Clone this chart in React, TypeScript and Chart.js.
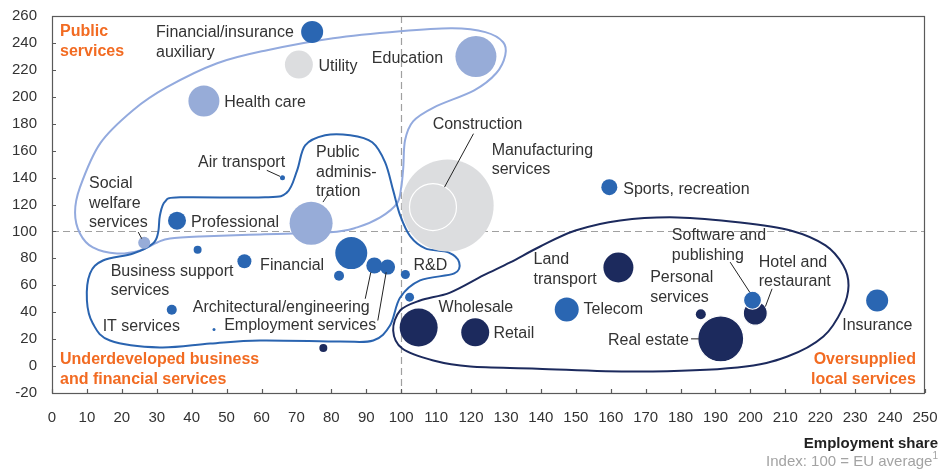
import React, { useEffect, useRef } from 'react';
import { Chart, registerables } from 'chart.js';

Chart.register(...registerables);

// ---------------- Data ----------------
const sectors = [
  'Manufacturing services', 'Construction', 'Utility', 'Health care', 'Education',
  'Public administration', 'Social welfare services', 'Financial/insurance auxiliary',
  'Air transport', 'Professional', 'Sports, recreation', 'Business support services',
  'Other business services', 'IT services', 'Other small service', 'Financial',
  'Other financial', 'Architectural/engineering', 'Employment services', 'R&D',
  'Other research', 'Telecom', 'Insurance', 'Other local', 'Wholesale', 'Retail',
  'Land transport', 'Personal services', 'Real estate', 'Hotel and restaurant',
  'Software and publishing',
];
const employmentShare = [
  113.3, 109.1, 70.7, 43.5, 121.4,
  74.2, 26.4, 74.5,
  66.0, 35.8, 159.6, 41.7,
  55.1, 34.3, 46.4, 85.7,
  82.2, 92.3, 96.1, 101.2,
  102.4, 147.4, 236.3, 77.7, 105.0, 121.2,
  162.2, 185.8, 191.5, 201.4,
  200.6,
];
const indexValue = [
  119.3, 118.1, 223.9, 196.9, 229.9,
  106.0, 91.6, 248.2,
  139.9, 108.0, 132.9, 86.4,
  77.9, 41.8, 27.1, 83.9,
  67.1, 74.7, 73.5, 68.0,
  51.2, 42.0, 48.7, 13.5, 28.6, 25.1,
  73.2, 38.5, 20.2, 39.3,
  48.9,
];
const bubbleSize = [
  46, 23.5, 14, 15.5, 20.5,
  21.5, 6, 11,
  2.5, 9, 8, 4,
  7, 5, 1.5, 16,
  5, 8, 7.5, 4.5,
  4.5, 12, 11, 4, 19, 14,
  15, 5, 23, 12,
  9,
];
const sectorGroup = [
  'gray', 'gray', 'gray', 'light', 'light',
  'light', 'light', 'mid',
  'mid', 'mid', 'mid', 'mid',
  'mid', 'mid', 'mid', 'mid',
  'mid', 'mid', 'mid', 'mid',
  'mid', 'mid', 'mid', 'navy', 'navy', 'navy',
  'navy', 'navy', 'navy', 'navy',
  'mid',
];
const outlinedSectors = ['Construction', 'Software and publishing', 'Hotel and restaurant', 'Real estate'];

const groupColors: Record<string, string> = {
  gray: '#dcdddf',
  light: '#97acd8',
  mid: '#2a66b2',
  navy: '#1c2a5d',
};

const xMin = 0, xMax = 250, xStep = 10;
const yMin = -20, yMax = 260, yStep = 20;
const referenceValue = 100;

// Cluster outlines (data coordinates)
const publicServicesX = [6.6, 8.0, 13.8, 23.2, 32.9, 47.3, 61.6, 80.5, 99.7, 114.6, 124.1, 129.2, 129.8, 127.2, 120.9, 109.4, 103.4, 101.1, 100.6, 100.0, 98.8, 94.0, 87.4, 79.6, 59.6, 42.4, 33.8, 30.1, 25.2, 18.6, 11.7, 8.0];
const publicServicesY = [114.1, 132.7, 165.4, 190.0, 207.1, 224.9, 234.6, 243.5, 248.7, 250.9, 248.0, 240.5, 230.9, 217.5, 204.8, 192.2, 181.8, 167.7, 147.6, 132.7, 120.8, 110.4, 103.0, 99.3, 97.8, 96.3, 94.8, 91.8, 85.9, 83.6, 88.1, 98.5];

const underdevelopedX = [30.9, 32.4, 36.7, 61.0, 67.3, 70.2, 72.5, 78.2, 85.4, 91.7, 95.4, 97.7, 99.7, 102.6, 106.9, 113.5, 116.6, 115.2, 105.4, 99.7, 96.8, 92.0, 82.5, 59.6, 45.3, 30.9, 16.6, 11.7, 10.0, 10.9, 14.6, 23.2, 28.9, 30.4];
const underdevelopedY = [111.9, 122.3, 125.3, 125.3, 129.0, 145.4, 163.9, 171.4, 171.4, 166.2, 151.3, 130.5, 111.9, 96.3, 87.4, 84.4, 77.0, 68.8, 63.6, 50.9, 30.1, 19.0, 18.2, 19.0, 16.7, 13.8, 19.0, 31.6, 48.7, 68.8, 78.4, 83.6, 91.1, 99.3];

const oversuppliedX = [97.7, 99.7, 105.4, 114.0, 123.5, 131.2, 139.8, 149.9, 162.7, 179.1, 197.1, 211.5, 221.5, 226.6, 228.1, 226.4, 220.9, 210.6, 196.3, 167.6, 139.0, 119.8, 109.2, 100.3];
const oversuppliedY = [26.4, 41.3, 48.7, 54.6, 67.3, 77.0, 88.8, 100.7, 108.2, 110.4, 106.7, 100.7, 89.6, 74.7, 59.9, 42.7, 21.9, 7.1, -1.1, -4.1, -1.9, -0.4, 4.1, 13.0];

const outlineColors = ['#93aade', '#2a64b0', '#1c2a5d'];

// Point labels
const labelTexts = [
  'Financial/insurance\nauxiliary', 'Utility', 'Education', 'Health care', 'Air transport',
  'Public\nadminis-\ntration', 'Social\nwelfare\nservices', 'Professional', 'Construction',
  'Manufacturing\nservices', 'Sports, recreation', 'Business support\nservices', 'Financial',
  'R&D', 'Architectural/engineering', 'IT services', 'Employment services', 'Wholesale',
  'Retail', 'Land\ntransport', 'Telecom', 'Personal\nservices', 'Software and\npublishing',
  'Hotel and\nrestaurant', 'Real estate', 'Insurance',
];
const labelX = [
  29.8, 76.3, 91.6, 49.3, 41.8,
  75.6, 10.6, 39.8, 109.0,
  125.9, 163.6, 16.8, 59.6,
  103.5, 40.3, 14.5, 49.3, 110.7,
  126.4, 137.9, 152.2, 171.3, 177.5,
  202.4, 159.2, 226.3,
];
const labelY = [
  247.7, 222.2, 228.1, 195.9, 151.1,
  158.5, 135.5, 106.9, 179.6,
  160.2, 131.4, 70.5, 74.7,
  74.7, 43.7, 29.6, 30.1, 43.3,
  23.9, 79.2, 42.2, 65.6, 97.0,
  77.2, 19.0, 30.1,
];

// Cluster titles
const clusterTexts = ['Public\nservices', 'Underdeveloped business\nand financial services', 'Oversupplied\nlocal services'];
const clusterX = [2.3, 2.3, 247.4];
const clusterY = [248.2, 4.6, 4.6];
const clusterAlign: CanvasTextAlign[] = ['left', 'left', 'right'];

// Leader lines
const leaderX1 = [61.5, 24.7, 79.2, 120.7, 89.7, 93.3, 194.2, 206.2, 183.0];
const leaderY1 = [145.4, 99.5, 128.0, 172.6, 50.0, 33.8, 77.2, 57.4, 20.2];
const leaderX2 = [65.3, 25.7, 77.6, 112.4, 91.3, 95.7, 199.8, 204.3, 185.2];
const leaderY2 = [140.9, 94.6, 121.8, 132.9, 69.7, 69.7, 54.9, 44.2, 20.2];

const axisTitle = 'Employment share';
const axisSubtitle = 'Index: 100 = EU average';
const axisFootnote = '1';

// ---------------- Drawing helpers ----------------
const FONT = '"Liberation Sans", Arial, Helvetica, sans-serif';

function smoothClosed(ctx: CanvasRenderingContext2D, pts: { x: number; y: number }[]) {
  const n = pts.length;
  ctx.beginPath();
  ctx.moveTo(pts[0].x, pts[0].y);
  for (let i = 0; i < n; i++) {
    const p0 = pts[(i - 1 + n) % n];
    const p1 = pts[i];
    const p2 = pts[(i + 1) % n];
    const p3 = pts[(i + 2) % n];
    const c1x = p1.x + (p2.x - p0.x) / 6;
    const c1y = p1.y + (p2.y - p0.y) / 6;
    const c2x = p2.x - (p3.x - p1.x) / 6;
    const c2y = p2.y - (p3.y - p1.y) / 6;
    ctx.bezierCurveTo(c1x, c1y, c2x, c2y, p2.x, p2.y);
  }
  ctx.closePath();
}

const overlayPlugin = {
  id: 'overlay',
  beforeDatasetsDraw(chart: any) {
    const { ctx, chartArea: a, scales } = chart;
    const xs = scales.x, ys = scales.y;
    ctx.save();
    // reference lines
    ctx.strokeStyle = '#a0a0a0';
    ctx.lineWidth = 1.2;
    ctx.setLineDash([7, 4]);
    const rx = Math.round(xs.getPixelForValue(referenceValue)) + 0.5;
    const ry = Math.round(ys.getPixelForValue(referenceValue)) + 0.5;
    ctx.beginPath();
    ctx.moveTo(rx, a.top);
    ctx.lineTo(rx, a.bottom);
    ctx.moveTo(a.left, ry);
    ctx.lineTo(a.right, ry);
    ctx.stroke();
    ctx.setLineDash([]);
    // cluster outlines
    const outlines = [
      [publicServicesX, publicServicesY],
      [underdevelopedX, underdevelopedY],
      [oversuppliedX, oversuppliedY],
    ];
    outlines.forEach(([ox, oy], k) => {
      const pts = ox.map((v, i) => ({ x: xs.getPixelForValue(v), y: ys.getPixelForValue(oy[i]) }));
      ctx.strokeStyle = outlineColors[k];
      ctx.lineWidth = 2;
      smoothClosed(ctx, pts);
      ctx.stroke();
    });
    ctx.restore();
  },
  afterDatasetsDraw(chart: any) {
    const { ctx, chartArea: a, scales, width } = chart;
    const xs = scales.x, ys = scales.y;
    ctx.save();
    // frame
    ctx.strokeStyle = '#5a5a5a';
    ctx.lineWidth = 1.2;
    ctx.strokeRect(a.left + 0.5, a.top + 0.5, a.right - a.left - 1, a.bottom - a.top);
    // inward tick marks
    ctx.beginPath();
    for (let v = xMin; v <= xMax; v += xStep) {
      const p = Math.round(xs.getPixelForValue(v)) + 0.5;
      ctx.moveTo(p, a.bottom);
      ctx.lineTo(p, a.bottom - 4);
    }
    for (let v = yMin; v <= yMax; v += yStep) {
      const p = Math.round(ys.getPixelForValue(v)) + 0.5;
      ctx.moveTo(a.left, p);
      ctx.lineTo(a.left + 4, p);
    }
    ctx.stroke();
    // leader lines
    ctx.strokeStyle = '#222';
    ctx.lineWidth = 1;
    ctx.beginPath();
    leaderX1.forEach((v, i) => {
      ctx.moveTo(xs.getPixelForValue(v), ys.getPixelForValue(leaderY1[i]));
      ctx.lineTo(xs.getPixelForValue(leaderX2[i]), ys.getPixelForValue(leaderY2[i]));
    });
    ctx.stroke();
    // point labels
    const lineH = 19.7;
    ctx.fillStyle = '#333';
    ctx.font = `16px ${FONT}`;
    ctx.textBaseline = 'middle';
    ctx.textAlign = 'left';
    labelTexts.forEach((t, i) => {
      const px = xs.getPixelForValue(labelX[i]);
      const py = ys.getPixelForValue(labelY[i]);
      t.split('\n').forEach((line, j) => ctx.fillText(line, px, py + j * lineH));
    });
    // cluster titles
    ctx.fillStyle = '#f26b22';
    ctx.font = `bold 16px ${FONT}`;
    clusterTexts.forEach((t, i) => {
      ctx.textAlign = clusterAlign[i];
      const px = xs.getPixelForValue(clusterX[i]);
      const py = ys.getPixelForValue(clusterY[i]);
      t.split('\n').forEach((line, j) => ctx.fillText(line, px, py + j * 20));
    });
    // axis title
    const rightEdge = width - 1;
    ctx.textAlign = 'right';
    ctx.fillStyle = '#222';
    ctx.font = `bold 15px ${FONT}`;
    ctx.fillText(axisTitle, rightEdge, a.bottom + 51);
    ctx.fillStyle = '#a3a3a3';
    ctx.font = `10px ${FONT}`;
    const fw = ctx.measureText(axisFootnote).width;
    ctx.fillText(axisFootnote, rightEdge, a.bottom + 63);
    ctx.font = `15px ${FONT}`;
    ctx.fillText(axisSubtitle, rightEdge - fw, a.bottom + 69);
    ctx.restore();
  },
};

export default function App() {
  const canvasRef = useRef<HTMLCanvasElement | null>(null);

  useEffect(() => {
    document.body.style.margin = '0';
    const canvas = canvasRef.current;
    if (!canvas) return;
    const points = sectors.map((_, i) => ({ x: employmentShare[i], y: indexValue[i], r: bubbleSize[i] }));
    const chart = new Chart(canvas, {
      type: 'bubble',
      data: {
        datasets: [
          {
            label: 'Sectors',
            data: points,
            backgroundColor: sectorGroup.map((g) => groupColors[g]),
            borderColor: '#ffffff',
            borderWidth: sectors.map((s) => (outlinedSectors.includes(s) ? 1.2 : 0)),
            clip: false,
          } as any,
        ],
      },
      options: {
        responsive: false,
        devicePixelRatio: 1,
        animation: false,
        events: [],
        layout: { autoPadding: false, padding: { top: 16, right: 14, left: 0, bottom: 0 } },
        plugins: {
          legend: { display: false },
          tooltip: { enabled: false },
          title: { display: false },
        },
        scales: {
          x: {
            type: 'linear',
            min: xMin,
            max: xMax,
            grid: { display: false, drawTicks: false },
            border: { display: false },
            afterFit: (scale: any) => {
              scale.height = 77;
              scale.paddingLeft = 0;
              scale.paddingRight = 0;
            },
            ticks: {
              stepSize: xStep,
              padding: 16,
              color: '#333',
              font: { family: FONT, size: 15 },
              maxRotation: 0,
              autoSkip: false,
            },
          },
          y: {
            type: 'linear',
            min: yMin,
            max: yMax,
            grid: { display: false, drawTicks: false },
            border: { display: false },
            afterFit: (scale: any) => {
              scale.width = 52;
              scale.paddingTop = 0;
              scale.paddingBottom = 0;
            },
            ticks: {
              stepSize: yStep,
              padding: 15,
              color: '#333',
              font: { family: FONT, size: 15 },
              autoSkip: false,
            },
          },
        },
      },
      plugins: [overlayPlugin],
    });
    return () => chart.destroy();
  }, []);

  return (
    <div style={{ position: 'fixed', left: 0, top: 0, width: 939, height: 470, background: '#fff' }}>
      <canvas ref={canvasRef} width={939} height={470} style={{ width: 939, height: 470, display: 'block' }} />
    </div>
  );
}
